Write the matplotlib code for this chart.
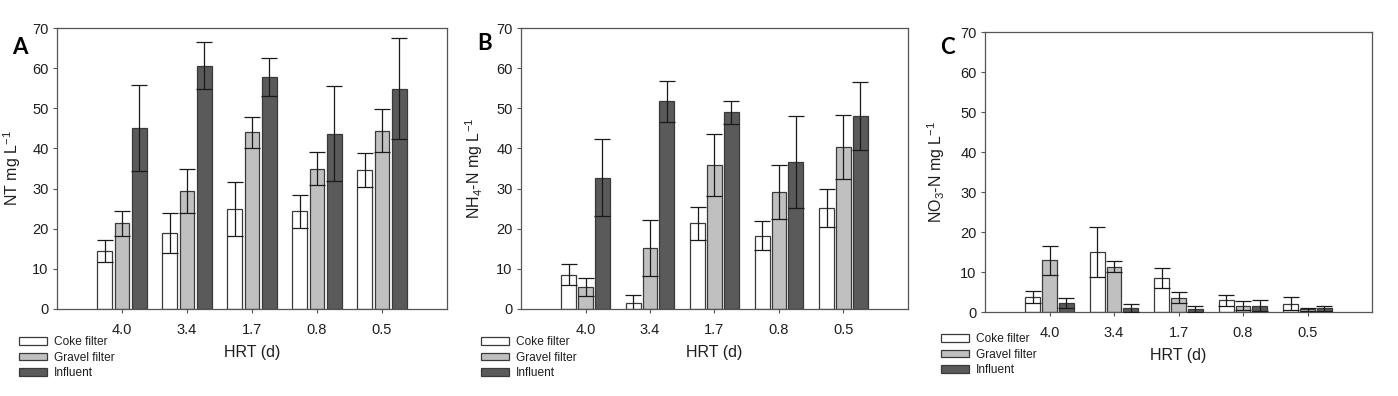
import matplotlib
matplotlib.use("Agg")
import matplotlib.pyplot as plt
import numpy as np

plt.rcParams["font.family"] = ["Liberation Sans", "DejaVu Sans"]
plt.rcParams["mathtext.default"] = "regular"

# HRT categories
hrt_labels = ["4.0", "3.4", "1.7", "0.8", "0.5"]
series_names = ["Coke filter", "Gravel filter", "Influent"]

# Panel A: NT
nt_coke = [14.4, 18.9, 24.9, 24.3, 34.6]
nt_coke_err = [2.8, 5.0, 6.8, 4.2, 4.3]
nt_gravel = [21.4, 29.4, 44.0, 35.0, 44.4]
nt_gravel_err = [3.1, 5.4, 3.8, 4.1, 5.4]
nt_influent = [45.1, 60.6, 57.8, 43.7, 54.9]
nt_influent_err = [10.6, 5.8, 4.8, 11.9, 12.5]

# Panel B: NH4-N
nh4_coke = [8.5, 1.4, 21.3, 18.3, 25.1]
nh4_coke_err = [2.6, 2.0, 4.2, 3.7, 4.7]
nh4_gravel = [5.5, 15.2, 35.9, 29.2, 40.3]
nh4_gravel_err = [2.2, 6.9, 7.7, 6.7, 8.0]
nh4_influent = [32.7, 51.7, 49.0, 36.6, 48.0]
nh4_influent_err = [9.6, 5.1, 2.9, 11.4, 8.5]

# Panel C: NO3-N
no3_coke = [3.8, 15.0, 8.6, 2.9, 2.1]
no3_coke_err = [1.5, 6.2, 2.5, 1.3, 1.7]
no3_gravel = [12.9, 11.3, 3.6, 1.6, 0.7]
no3_gravel_err = [3.7, 1.4, 1.3, 1.2, 0.4]
no3_influent = [2.3, 1.1, 0.8, 1.6, 0.9]
no3_influent_err = [1.3, 1.0, 0.8, 1.3, 0.7]

colors = ["white", "#c0c0c0", "#5a5a5a"]
edge = "#3a3a3a"
text_col = "#1e1e1e"

panels = [
    ("A", "NT mg L$^{-1}$", [nt_coke, nt_gravel, nt_influent],
     [nt_coke_err, nt_gravel_err, nt_influent_err]),
    ("B", "NH$_4$-N mg L$^{-1}$", [nh4_coke, nh4_gravel, nh4_influent],
     [nh4_coke_err, nh4_gravel_err, nh4_influent_err]),
    ("C", "NO$_3$-N mg L$^{-1}$", [no3_coke, no3_gravel, no3_influent],
     [no3_coke_err, no3_gravel_err, no3_influent_err]),
]

W, H = 1398, 396
# axes boxes in pixels: left, top, right, bottom
boxes = [(57, 28, 447, 309), (521, 28, 908, 309), (985, 32, 1372, 312)]
letter_pos = [(20, 47), (485, 43), (947, 48)]
ylabel_x = [-0.088, -0.094, -0.097]
legend_pos = [(19, 336), (481, 336), (941, 333)]

fig = plt.figure(figsize=(W / 100, H / 100), dpi=100)

x = np.arange(1, 6)
width = 0.23
offset = 0.262

for i, (letter, ylab, vals, errs) in enumerate(panels):
    l, t, r, b = boxes[i]
    ax = fig.add_axes([l / W, 1 - b / H, (r - l) / W, (b - t) / H])
    handles = []
    for k in range(3):
        h = ax.bar(x + (k - 1) * offset, vals[k], width, color=colors[k],
                   edgecolor=edge, linewidth=0.9, label=series_names[k], zorder=2)
        handles.append(h)
        ax.errorbar(x + (k - 1) * offset, vals[k], yerr=errs[k], fmt="none",
                    ecolor="#1a1a1a", elinewidth=0.9, capsize=5.5, capthick=0.9,
                    zorder=3)
    ax.set_xlim(0, 6)
    ax.set_ylim(0, 70)
    ax.set_yticks(range(0, 71, 10))
    ax.set_xticks(x)
    ax.set_xticklabels(hrt_labels)
    for s in ax.spines.values():
        s.set_color("#555555")
        s.set_linewidth(0.9)
    ax.tick_params(axis="y", direction="out", length=3, width=0.8,
                   colors="#555555", labelcolor=text_col, labelsize=10.5, pad=3)
    ax.tick_params(axis="x", direction="out", length=3, width=0.8,
                   colors="#555555", labelcolor=text_col, labelsize=10.5, pad=7)
    ax.set_ylabel(ylab, fontsize=11.5, color=text_col)
    ax.yaxis.set_label_coords(ylabel_x[i], 0.5)
    ax.set_xlabel("HRT (d)", fontsize=11.5, color=text_col)
    ax.xaxis.set_label_coords(0.5, -0.128)

    lx, ly = letter_pos[i]
    fig.text(lx / W, 1 - ly / H, letter, fontsize=16, fontweight="bold",
             family=["Lato", "DejaVu Sans"], ha="center", va="center")

    gx, gy = legend_pos[i]
    fig.legend(handles=handles, labels=series_names, loc="upper left",
               bbox_to_anchor=(gx / W, 1 - gy / H), frameon=False, fontsize=8.6,
               handlelength=2.35, handleheight=0.6, handletextpad=0.6,
               labelspacing=0.3, borderpad=0, borderaxespad=0,
               labelcolor=text_col)

fig.savefig("out.png", dpi=100)
